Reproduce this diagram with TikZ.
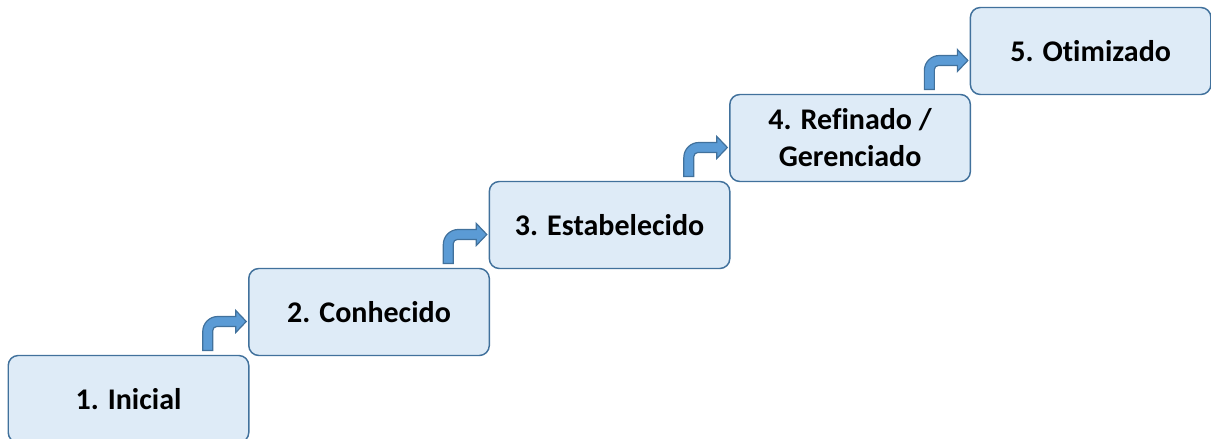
\documentclass[tikz,border=0pt]{standalone}
\usepackage{fontspec}
\setmainfont{Carlito}[Ligatures={NoCommon}]
\usetikzlibrary{positioning}

\definecolor{boxfill}{HTML}{DEEBF7}
\definecolor{boxline}{HTML}{41719C}
\definecolor{arrowfill}{HTML}{5B9BD5}

\tikzset{
  stage/.style={rectangle, rounded corners=7.5pt, draw=boxline, fill=boxfill, line width=1.1pt,
    minimum width=180.4pt, minimum height=65.25pt, outer sep=0pt, align=center,
    font=\fontsize{22.5}{27.75}\selectfont\bfseries},
  steparrow/.style={draw=boxline, fill=arrowfill, line width=0.9pt, line join=miter}
}

\begin{document}
\begin{tikzpicture}[x=0.75pt, y=0.75pt]
        \useasboundingbox (0,0) rectangle (1211,439);

        \node[stage] (b1) at (128.5, 40) {1. Inicial};
        \node[stage, above right=0pt and 0pt of b1] (b2) {2. Conhecido};
        \node[stage, above right=0pt and 0pt of b2] (b3) {3. Estabelecido};
        \node[stage, above right=0pt and 0pt of b3] (b4) {4. Refinado /\\Gerenciado};
        \node[stage, above right=0pt and 0pt of b4] (b5) {5. Otimizado};

        % bent arrows leading up to each next stage
        \foreach \b in {b2, b3, b4, b5} {
            \filldraw[steparrow, shift={(\b.south west)}] (-46, 5) -- (-46, 24)
                arc[start angle=180, end angle=90, radius=15] -- (-13, 39) -- (-13, 45)
                -- (-2.5, 34) -- (-13, 23) -- (-13, 29) -- (-32, 29)
                arc[start angle=90, end angle=180, radius=4] -- (-36, 5) -- cycle;
        }
\end{tikzpicture}
\end{document}
